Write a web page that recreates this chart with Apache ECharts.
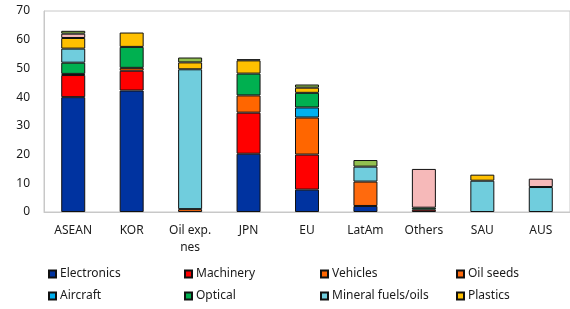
<!DOCTYPE html>
<html>
<head>
<meta charset="utf-8">
<script src="https://cdn.jsdelivr.net/npm/echarts@6/dist/echarts.min.js"></script>
<style>html,body{margin:0;padding:0;background:#fff;}#c{width:570px;height:309px;}</style>
</head>
<body>
<div id="c"></div>
<script>
const categories = ['ASEAN', 'KOR', 'Oil exp. nes', 'JPN', 'EU', 'LatAm', 'Others', 'SAU', 'AUS'];
const electronics = [40.0, 42.3, null, 20.3, 7.8, 2.1, null, null, null];
const machinery   = [7.7, 6.9, null, 14.3, 12.2, null, 0.8, null, null];
const vehicles    = [0.4, 1.0, null, 6.0, 12.9, null, null, null, null];
const oilSeeds    = [null, null, 1.0, null, null, 8.5, null, null, null];
const aircraft    = [null, null, null, null, 3.5, null, null, null, null];
const optical     = [3.9, 7.3, null, 7.6, 5.1, null, 0.7, null, null];
const mineral     = [4.9, null, 48.7, null, null, 5.2, null, 10.9, 8.7];
const plastics    = [3.7, 5.0, 2.4, 4.6, 1.8, null, null, 2.1, null];
const pinkOther   = [1.5, null, null, null, null, null, 13.5, null, 2.9];
const greenOther  = [1.0, null, 1.7, 0.4, 1.1, 2.3, null, null, null];
const yTicks = [0, 10, 20, 30, 40, 50, 60, 70];

const seriesDefs = [
  ['Electronics', electronics, '#0033A0'],
  ['Machinery', machinery, '#FF0000'],
  ['Vehicles', vehicles, '#FF6600'],
  ['Oil seeds', oilSeeds, '#FF6A0D'],
  ['Aircraft', aircraft, '#00B0F0'],
  ['Optical', optical, '#00B050'],
  ['Mineral fuels/oils', mineral, '#70CDDD'],
  ['Plastics', plastics, '#FFC000'],
  ['Other goods', pinkOther, '#F6B9B9'],
  ['Other products', greenOther, '#92C050']
];

const legendPos = [
  [48, 268], [184, 268], [320, 268], [456, 268],
  [48, 290], [184, 290], [320, 290], [456, 290]
];

const legends = legendPos.map((p, i) => ({
  data: [seriesDefs[i][0]],
  left: p[0], top: p[1],
  padding: 0,
  itemWidth: 7, itemHeight: 7,
  itemGap: 0,
  icon: 'rect',
  selectedMode: false,
  textStyle: { fontFamily: 'Noto Sans', fontSize: 12, color: '#1a1a1a', padding: [0, 0, 0, -1] }
}));

const chart = echarts.init(document.getElementById('c'), null, { renderer: 'canvas' });
chart.setOption({
  animation: false,
  backgroundColor: '#fff',
  legend: legends,
  grid: { left: 44, top: 11, width: 531, height: 201, show: true, borderColor: '#c8c8c8', borderWidth: 1, containLabel: false },
  xAxis: {
    type: 'category',
    data: categories,
    axisLine: { lineStyle: { color: '#c8c8c8', width: 1 } },
    axisTick: { show: false },
    axisLabel: {
      fontFamily: 'Noto Sans', fontSize: 12, color: '#1a1a1a', margin: 10, lineHeight: 17, interval: 0,
      formatter: v => v === 'Oil exp. nes' ? 'Oil exp.\nnes' : v
    }
  },
  yAxis: {
    type: 'value', min: yTicks[0], max: yTicks[yTicks.length - 1], interval: 10,
    axisLine: { show: true, lineStyle: { color: '#c8c8c8' } },
    axisTick: { show: false },
    splitLine: { show: false },
    axisLabel: { fontFamily: 'Noto Sans', fontSize: 12, color: '#1a1a1a', margin: 14 }
  },
  series: seriesDefs.map(d => ({
    name: d[0], type: 'bar', stack: 'total', data: d[1], barWidth: 24,
    itemStyle: { color: d[2], borderColor: '#111', borderWidth: 1 }
  }))
});
</script>
</body>
</html>
